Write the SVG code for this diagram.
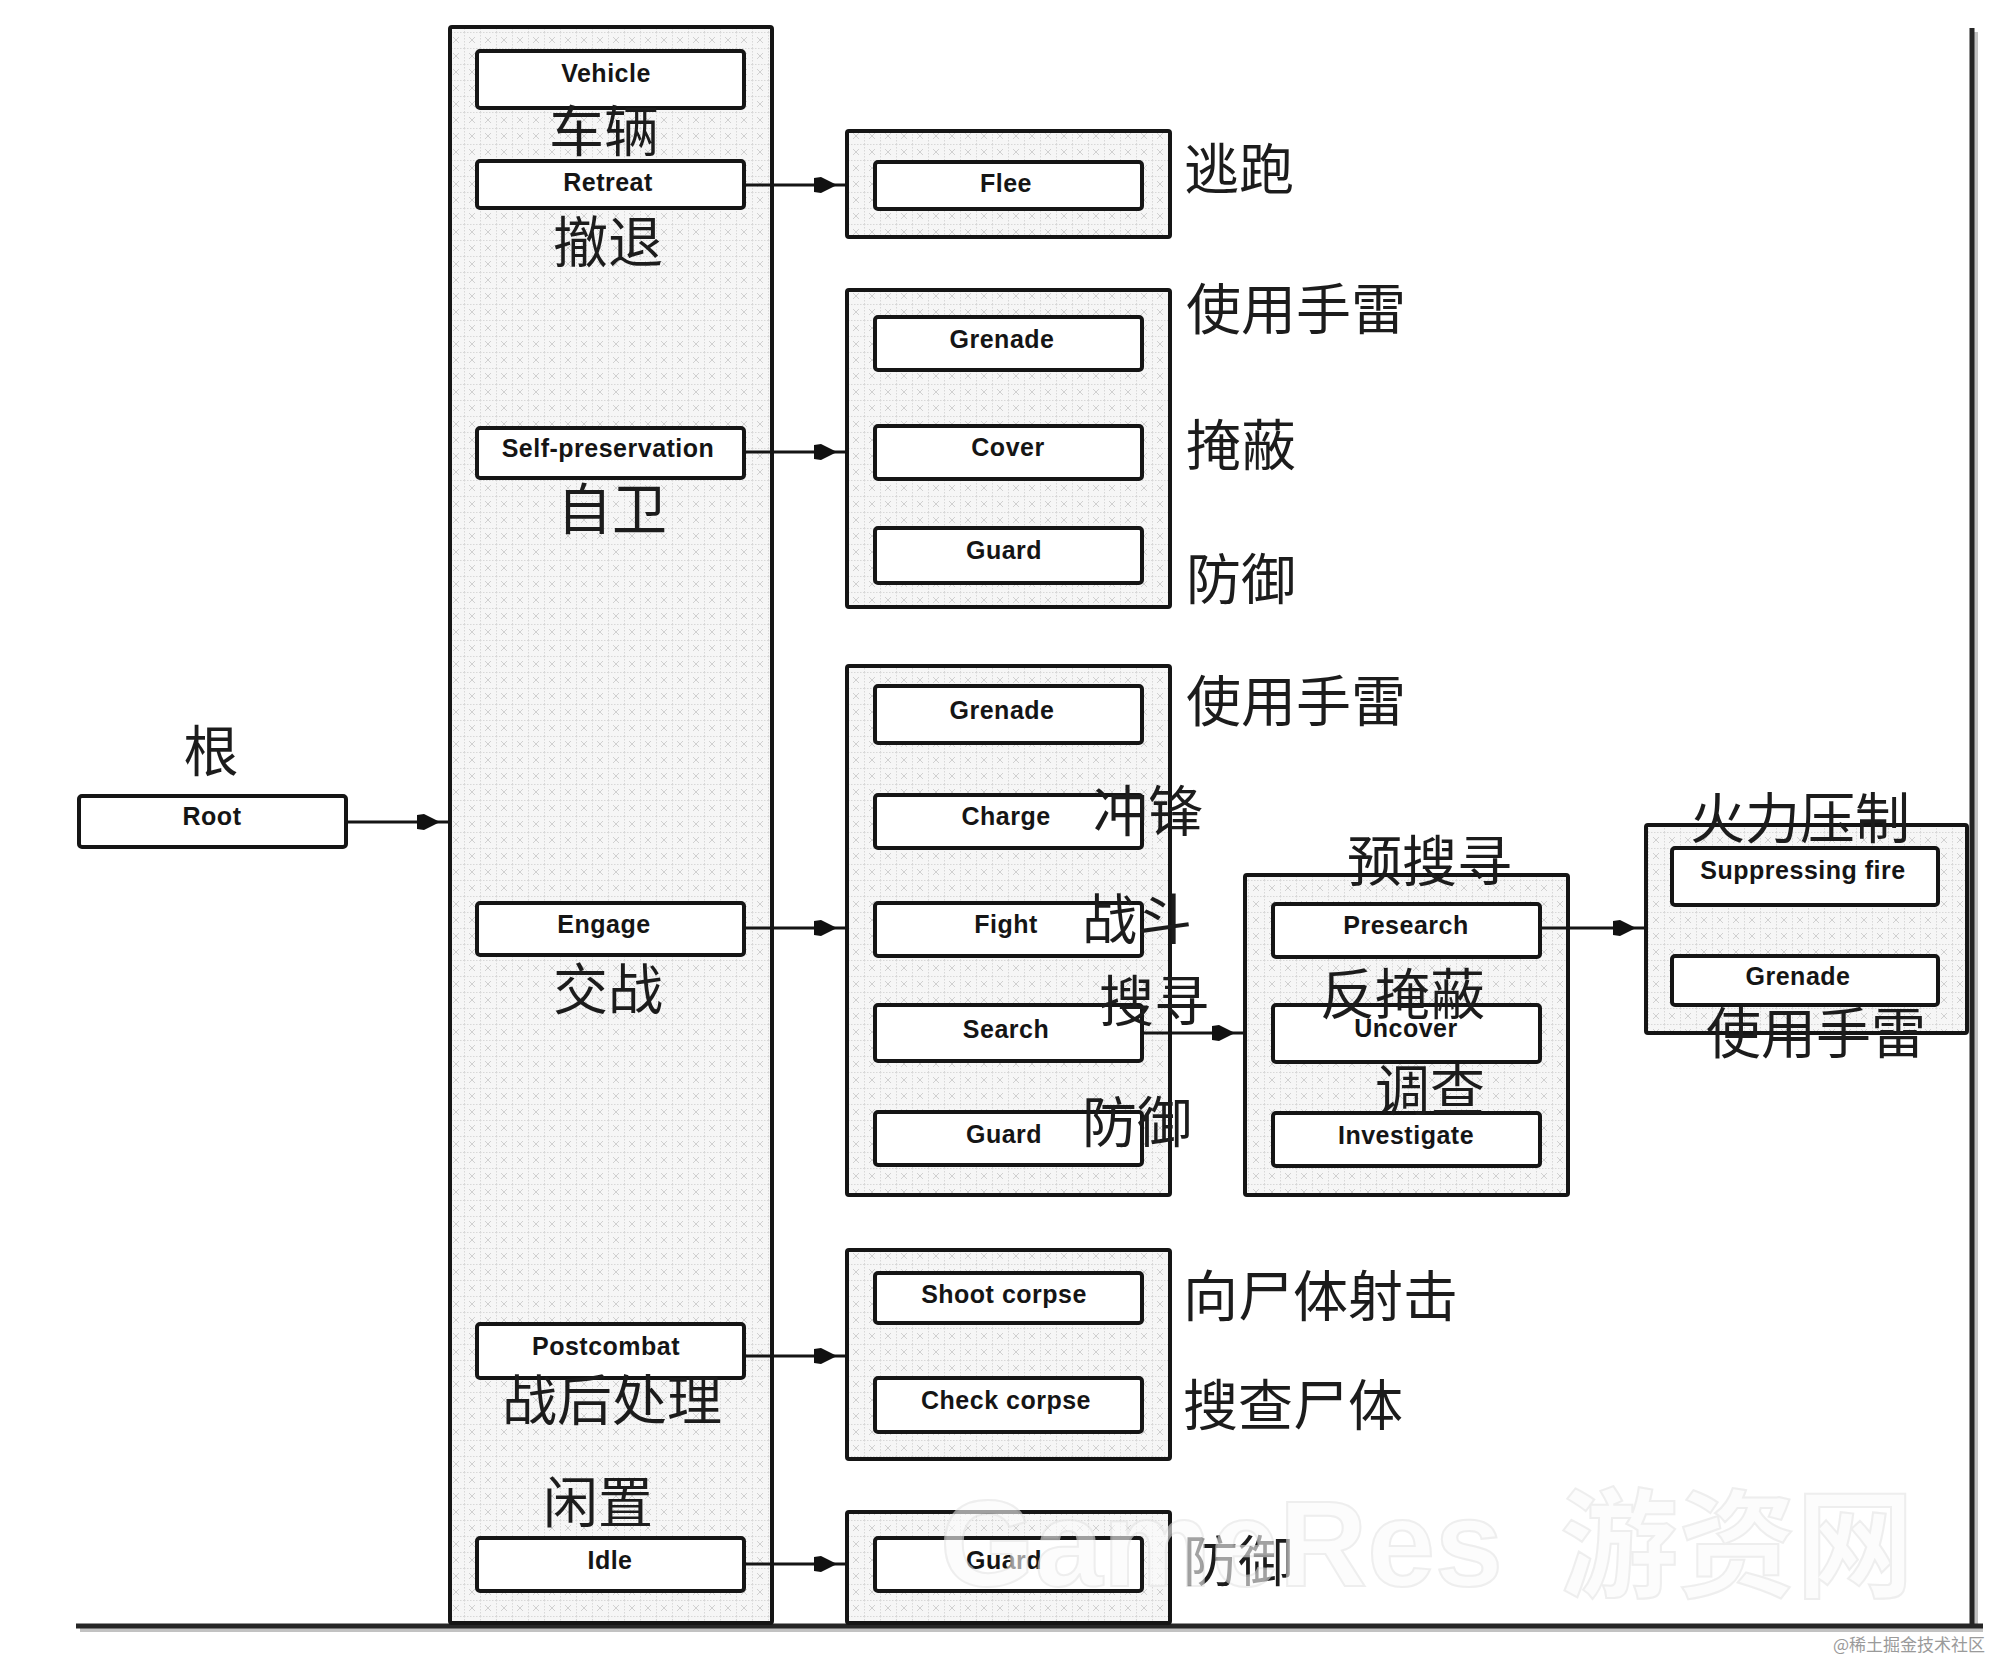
<svg xmlns="http://www.w3.org/2000/svg" width="2000" height="1660" viewBox="0 0 2000 1660">
<style>
.ctr{fill:url(#hatch);stroke:#151515;stroke-width:4}
.box{fill:#ffffff;stroke:#151515;stroke-width:4}
.en{font-family:"Liberation Sans",Arial,sans-serif;font-size:25px;font-weight:bold;text-anchor:middle;fill:#151515;letter-spacing:0.5px}
.zh{font-family:"Noto Sans CJK SC","Noto Sans",sans-serif;font-size:55px;fill:#1c1c1c}
.zc{text-anchor:middle}
.conn{stroke:#151515;stroke-width:3;fill:none;marker-end:url(#arr)}
.frame{stroke:#262626;stroke-width:5;fill:none}
.shadow{stroke:#9a9a9a;stroke-width:4;fill:none;opacity:0.6}
.wm{font-family:"Liberation Sans",Arial,sans-serif;font-size:122px;font-weight:bold;fill:#fbfbfb;stroke:#e4e4e4;stroke-width:2;opacity:0.6}
.wmzh{font-family:"Noto Sans CJK SC",sans-serif;font-size:118px;font-weight:bold;fill:#fbfbfb;stroke:#e4e4e4;stroke-width:2;opacity:0.6}
.credit{font-family:"Noto Sans CJK SC",sans-serif;font-size:17px;fill:#9a9a9a}
</style>
<defs>
<pattern id="hatch" width="16" height="16" patternUnits="userSpaceOnUse">
<rect width="16" height="16" fill="#f6f6f6"/>
<path d="M0,0.5 H16 M0.5,0 V16" stroke="#d8d8d8" stroke-width="1" stroke-dasharray="1.5,1.5"/>
<path d="M5,5 L11,11 M11,5 L5,11" stroke="#d0d0d0" stroke-width="1"/>
</pattern>
<marker id="arr" markerUnits="userSpaceOnUse" viewBox="0 -10 36 20" markerWidth="36" markerHeight="20" refX="36" refY="0" orient="auto">
<path d="M3,-7 L10,-8 L26,0 L10,8 L3,7 Z" fill="#111"/>
</marker>
</defs>
<rect width="2000" height="1660" fill="#ffffff"/>

<g id="frame">
<path class="shadow" d="M1976,32 V1630 M80,1630 H1983"/>
<path class="frame" d="M1972,28 V1626 M76,1626 H1983"/>
</g>

<g id="root">
<rect class="box" x="79" y="796" width="267" height="51" rx="3"/>
<text class="en" x="212" y="825">Root</text>
<text class="zh zc" x="211" y="771">根</text>
</g>

<g id="main-column">
<rect class="ctr" x="450" y="27" width="322" height="1596" rx="2"/>
</g>
<g id="vehicle">
<rect class="box" x="477" y="51" width="267" height="57" rx="3"/>
<text class="en" x="606" y="82">Vehicle</text>
<text class="zh zc" x="604" y="151">车辆</text>
</g>
<g id="retreat">
<rect class="box" x="477" y="161" width="267" height="47" rx="3"/>
<text class="en" x="608" y="191">Retreat</text>
<text class="zh zc" x="608" y="262">撤退</text>
</g>
<g id="self-preservation">
<rect class="box" x="477" y="428" width="267" height="50" rx="3"/>
<text class="en" x="608" y="457">Self-preservation</text>
<text class="zh zc" x="612" y="529">自卫</text>
</g>
<g id="engage">
<rect class="box" x="477" y="903" width="267" height="52" rx="3"/>
<text class="en" x="604" y="933">Engage</text>
<text class="zh zc" x="608" y="1009">交战</text>
</g>
<g id="postcombat">
<rect class="box" x="477" y="1324" width="267" height="54" rx="3"/>
<text class="en" x="606" y="1355">Postcombat</text>
<text class="zh zc" x="612" y="1420">战后处理</text>
</g>
<g id="idle">
<rect class="box" x="477" y="1538" width="267" height="53" rx="3"/>
<text class="en" x="610" y="1569">Idle</text>
<text class="zh zc" x="598" y="1522">闲置</text>
</g>

<g id="flee-group">
<rect class="ctr" x="847" y="131" width="323" height="106" rx="2"/>
<rect class="box" x="875" y="162" width="267" height="47" rx="3"/>
<text class="en" x="1006" y="192">Flee</text>
<text class="zh" x="1184" y="189">逃跑</text>
</g>

<g id="self-preservation-group">
<rect class="ctr" x="847" y="290" width="323" height="317" rx="2"/>
<rect class="box" x="875" y="317" width="267" height="53" rx="3"/>
<text class="en" x="1002" y="348">Grenade</text>
<rect class="box" x="875" y="426" width="267" height="53" rx="3"/>
<text class="en" x="1008" y="456">Cover</text>
<rect class="box" x="875" y="528" width="267" height="55" rx="3"/>
<text class="en" x="1004" y="559">Guard</text>
<text class="zh" x="1186" y="329">使用手雷</text>
<text class="zh" x="1186" y="465">掩蔽</text>
<text class="zh" x="1186" y="599">防御</text>
</g>

<g id="engage-group">
<rect class="ctr" x="847" y="666" width="323" height="529" rx="2"/>
<rect class="box" x="875" y="686" width="267" height="57" rx="3"/>
<text class="en" x="1002" y="719">Grenade</text>
<rect class="box" x="875" y="795" width="267" height="53" rx="3"/>
<text class="en" x="1006" y="825">Charge</text>
<rect class="box" x="875" y="903" width="267" height="53" rx="3"/>
<text class="en" x="1006" y="933">Fight</text>
<rect class="box" x="875" y="1005" width="267" height="56" rx="3"/>
<text class="en" x="1006" y="1038">Search</text>
<rect class="box" x="875" y="1112" width="267" height="53" rx="3"/>
<text class="en" x="1004" y="1143">Guard</text>
<text class="zh" x="1186" y="721">使用手雷</text>
<text class="zh" x="1093" y="831">冲锋</text>
<text class="zh" x="1082" y="939">战斗</text>
<text class="zh" x="1099" y="1021">搜寻</text>
<text class="zh" x="1082" y="1142">防御</text>
</g>

<g id="search-group">
<rect class="ctr" x="1245" y="875" width="323" height="320" rx="2"/>
<rect class="box" x="1273" y="904" width="267" height="53" rx="3"/>
<text class="en" x="1406" y="934">Presearch</text>
<rect class="box" x="1273" y="1005" width="267" height="57" rx="3"/>
<text class="en" x="1406" y="1037">Uncover</text>
<rect class="box" x="1273" y="1113" width="267" height="53" rx="3"/>
<text class="en" x="1406" y="1144">Investigate</text>
<text class="zh" x="1347" y="881">预搜寻</text>
<text class="zh" x="1320" y="1014">反掩蔽</text>
<text class="zh" x="1375" y="1110">调查</text>
</g>

<g id="suppression-group">
<rect class="ctr" x="1646" y="825" width="321" height="208" rx="2"/>
<rect class="box" x="1672" y="848" width="266" height="57" rx="3"/>
<text class="en" x="1803" y="879">Suppressing fire</text>
<rect class="box" x="1672" y="956" width="266" height="49" rx="3"/>
<text class="en" x="1798" y="985">Grenade</text>
<text class="zh" x="1690" y="838">火力压制</text>
<text class="zh" x="1706" y="1053">使用手雷</text>
</g>

<g id="postcombat-group">
<rect class="ctr" x="847" y="1250" width="323" height="209" rx="2"/>
<rect class="box" x="875" y="1273" width="267" height="50" rx="3"/>
<text class="en" x="1004" y="1303">Shoot corpse</text>
<rect class="box" x="875" y="1378" width="267" height="54" rx="3"/>
<text class="en" x="1006" y="1409">Check corpse</text>
<text class="zh" x="1183" y="1316">向尸体射击</text>
<text class="zh" x="1183" y="1425">搜查尸体</text>
</g>

<g id="idle-group">
<rect class="ctr" x="847" y="1512" width="323" height="111" rx="2"/>
<rect class="box" x="875" y="1538" width="267" height="53" rx="3"/>
<text class="en" x="1004" y="1569">Guard</text>
<text class="zh" x="1183" y="1581">防御</text>
</g>

<g id="connectors">
<path class="conn" d="M346,822 H450"/>
<path class="conn" d="M744,185 H847"/>
<path class="conn" d="M744,452 H847"/>
<path class="conn" d="M744,928 H847"/>
<path class="conn" d="M744,1356 H847"/>
<path class="conn" d="M744,1564 H847"/>
<path class="conn" d="M1142,1033 H1245"/>
<path class="conn" d="M1540,928 H1646"/>
</g>

<g id="watermark">
<text class="wm" x="940" y="1586">GameRes</text>
<text class="wmzh" x="1560" y="1588">游资网</text>
<text class="credit" x="1833" y="1651">@稀土掘金技术社区</text>
</g>
</svg>
